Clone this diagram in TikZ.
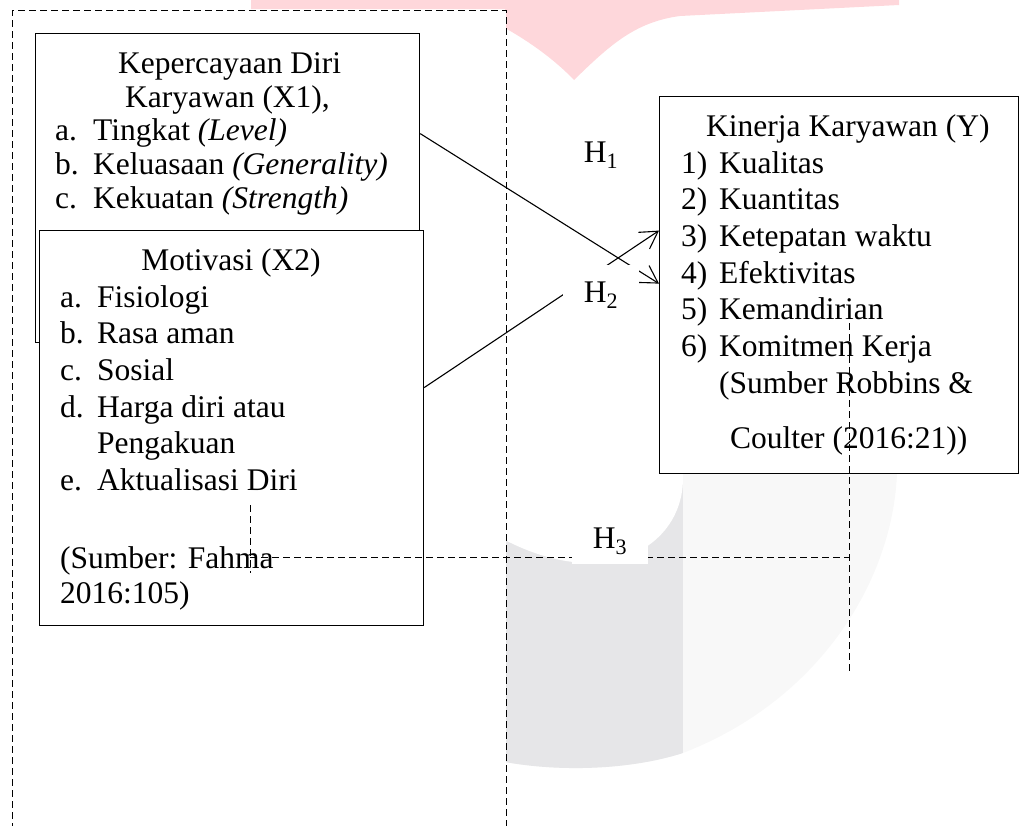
\documentclass[tikz,border=0pt]{standalone}
\usepackage{fontspec}
\setmainfont{Liberation Serif}
\usetikzlibrary{arrows.meta}
\definecolor{wmpink}{RGB}{254,215,219}
\definecolor{wmgrey}{RGB}{230,230,232}
\definecolor{wmlight}{RGB}{248,248,248}
\tikzset{
  box/.style={draw, line width=1.2pt, fill=white, rectangle, inner sep=0pt, anchor=north west},
  frame/.style={draw, dash pattern=on 7pt off 4pt, line width=1pt, fill=white, rectangle, inner sep=0pt, anchor=north west},
  txt/.style={anchor=base west, inner sep=0pt, font=\fontsize{31.5}{36}\selectfont},
  ctxt/.style={anchor=base, inner sep=0pt, font=\fontsize{31.5}{36}\selectfont},
  hlabel/.style={fill=white, inner sep=0pt, minimum width=76pt, minimum height=46pt, font=\fontsize{31.5}{36}\selectfont},
  dline/.style={dash pattern=on 7pt off 4pt, line width=1pt},
  arr/.style={line width=1.1pt, -{Straight Barb[length=17pt,width=20pt]}},
}
\begin{document}
\begin{tikzpicture}[x=1pt,y=-1pt]
\useasboundingbox (0,0) rectangle (1031,825);
\clip (0,0) rectangle (1031,825);
% watermark (pink)
\fill[wmpink] (251,0) -- (899,0) -- (899,5) -- (680,16)
  .. controls (635,22) and (610,45) .. (574,80)
  .. controls (555,60) and (530,42) .. (505,28) -- (505,9) -- (251,9) -- cycle;
% watermark (grey)
\fill[wmlight] (505,400) -- (897,400) -- (897,473)
  .. controls (893,580) and (820,700) .. (683,753)
  .. controls (630,770) and (560,772) .. (505,762) -- cycle;
\begin{scope}
  \clip (505,400) -- (897,400) -- (897,473)
  .. controls (893,580) and (820,700) .. (683,753)
  .. controls (630,770) and (560,772) .. (505,762) -- cycle;
  \fill[wmgrey] (505,400) rectangle (683,800);
\end{scope}
\fill[white] (505,400) -- (683,400) -- (683,478)
  .. controls (683,530) and (640,563) .. (590,563)
  .. controls (560,563) and (530,553) .. (505,540) -- cycle;
% dashed frame
\node[frame, minimum width=493.5pt, minimum height=840pt] (frm) at (12,9.5) {};
% X1 box
\node[box, minimum width=384pt, minimum height=309pt] (x1) at (35,33) {};
\node[txt] (x1t1) at (118,73) {Kepercayaan Diri};
\node[txt] (x1t2) at (125,107) {Karyawan (X1),};
\node[txt] (x1a) at (55,140) {\makebox[38pt][l]{a.}Tingkat \textit{(Level)}};
\node[txt] (x1b) at (55,174) {\makebox[38pt][l]{b.}Keluasaan \textit{(Generality)}};
\node[txt] (x1c) at (55,208) {\makebox[38pt][l]{c.}Kekuatan \textit{(Strength)}};
% X2 box
\node[box, minimum width=384pt, minimum height=395pt] (x2) at (39,230) {};
\node[ctxt] (x2t) at (231,270) {Motivasi (X2)};
\node[txt] (x2a) at (60,307) {\makebox[37pt][l]{a.}Fisiologi};
\node[txt] (x2b) at (60,343) {\makebox[37pt][l]{b.}Rasa aman};
\node[txt] (x2c) at (60,380) {\makebox[37pt][l]{c.}Sosial};
\node[txt] (x2d) at (60,417) {\makebox[37pt][l]{d.}Harga diri atau};
\node[txt] (x2d2) at (97,453) {Pengakuan};
\node[txt] (x2e) at (60,490) {\makebox[37pt][l]{e.}Aktualisasi Diri};
\node[txt] (x2s1) at (60,568) {(Sumber: Fahma};
\node[txt] (x2s2) at (60,603) {2016:105)};
% Y box
\node[box, minimum width=359pt, minimum height=377pt] (y) at (659,96) {};
\node[txt] (yt) at (706,136) {Kinerja Karyawan (Y)};
\node[txt] (y1) at (681,173) {\makebox[38pt][l]{1)}Kualitas};
\node[txt] (y2) at (681,209) {\makebox[38pt][l]{2)}Kuantitas};
\node[txt] (y3) at (681,246) {\makebox[38pt][l]{3)}Ketepatan waktu};
\node[txt] (y4) at (681,283) {\makebox[38pt][l]{4)}Efektivitas};
\node[txt] (y5) at (681,319) {\makebox[38pt][l]{5)}Kemandirian};
\node[txt] (y6) at (681,356) {\makebox[38pt][l]{6)}Komitmen Kerja};
\node[txt] (ys1) at (719,393) {(Sumber Robbins \&};
\node[txt] (ys2) at (730,448) {Coulter (2016:21))};
% arrows
\draw[arr] ([yshift=54.5pt]x1.east) -- ([yshift=1.5pt]y.west);
\draw[arr] ([yshift=40.5pt]x2.east) -- ([yshift=54.5pt]y.west);
% hypothesis labels
\node[hlabel] (h1) at (601,155) {H\textsubscript{1}};
\node[hlabel, minimum height=60pt] (h2) at (601,295) {H\textsubscript{2}};
% H3 dashed connector
\coordinate (h3a) at (250,505);
\coordinate (h3b) at (250,573);
\coordinate (h3c) at (250,557);
\coordinate (h3d) at (849,557);
\coordinate (h3e) at (849,323);
\coordinate (h3f) at (849,673);
\draw[dline] (h3a) -- (h3b);
\draw[dline] (h3c) -- (h3d);
\draw[dline] (h3e) -- (h3f);
\node[hlabel] (h3) at (610,541) {H\textsubscript{3}};
\end{tikzpicture}
\end{document}
